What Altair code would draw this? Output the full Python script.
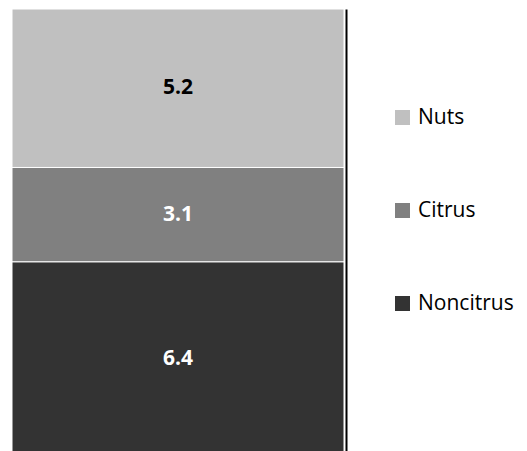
import altair as alt
import pandas as pd

categories = ["Nuts", "Citrus", "Noncitrus"]
values = [5.2, 3.1, 6.4]
stack_order = [3, 2, 1]
colors = ["#c0c0c0", "#808080", "#333333"]
label_colors = ["black", "white", "white"]

df = pd.DataFrame({
    "group": ["All"] * 3,
    "category": categories,
    "value": values,
    "ord": stack_order,
    "lc": label_colors,
})

total = sum(values)
xenc = alt.X("group:N", axis=None, scale=alt.Scale(paddingInner=0, paddingOuter=0))

bars = alt.Chart(df).mark_bar(stroke="white", strokeWidth=1).encode(
    x=xenc,
    y=alt.Y("value:Q", stack="zero",
            scale=alt.Scale(domain=[0, total], nice=False, zero=True),
            axis=alt.Axis(orient="right", title=None, labels=False, ticks=False,
                          grid=False, domainColor="black", domainWidth=2, offset=2)),
    color=alt.Color("category:N", sort=categories,
                    scale=alt.Scale(domain=categories, range=colors),
                    legend=alt.Legend(title=None, orient="none", legendX=380, legendY=98,
                                      symbolType="square", symbolSize=225,
                                      symbolStrokeWidth=0, labelFont="Open Sans",
                                      labelFontSize=21, labelColor="black",
                                      labelOffset=5, rowPadding=71)),
    order=alt.Order("ord:Q", sort="ascending"),
)

labels = alt.Chart(df).transform_stack(
    stack="value", groupby=["group"], as_=["v0", "v1"],
    sort=[alt.SortField("ord", order="ascending")]
).transform_calculate(
    mid="(datum.v0 + datum.v1) / 2"
).mark_text(font="Open Sans", fontWeight="bold", fontSize=21, baseline="middle").encode(
    x=xenc,
    y=alt.Y("mid:Q"),
    text=alt.Text("value:Q", format=".1f"),
    color=alt.Color("lc:N", scale=None),
)

chart = alt.layer(bars, labels).properties(
    width=332, height=448,
    padding={"left": 3, "top": 0, "right": 0, "bottom": 0},
).configure_view(stroke=None)

chart.save("out.html", embed_options={"renderer": "svg", "actions": False})
